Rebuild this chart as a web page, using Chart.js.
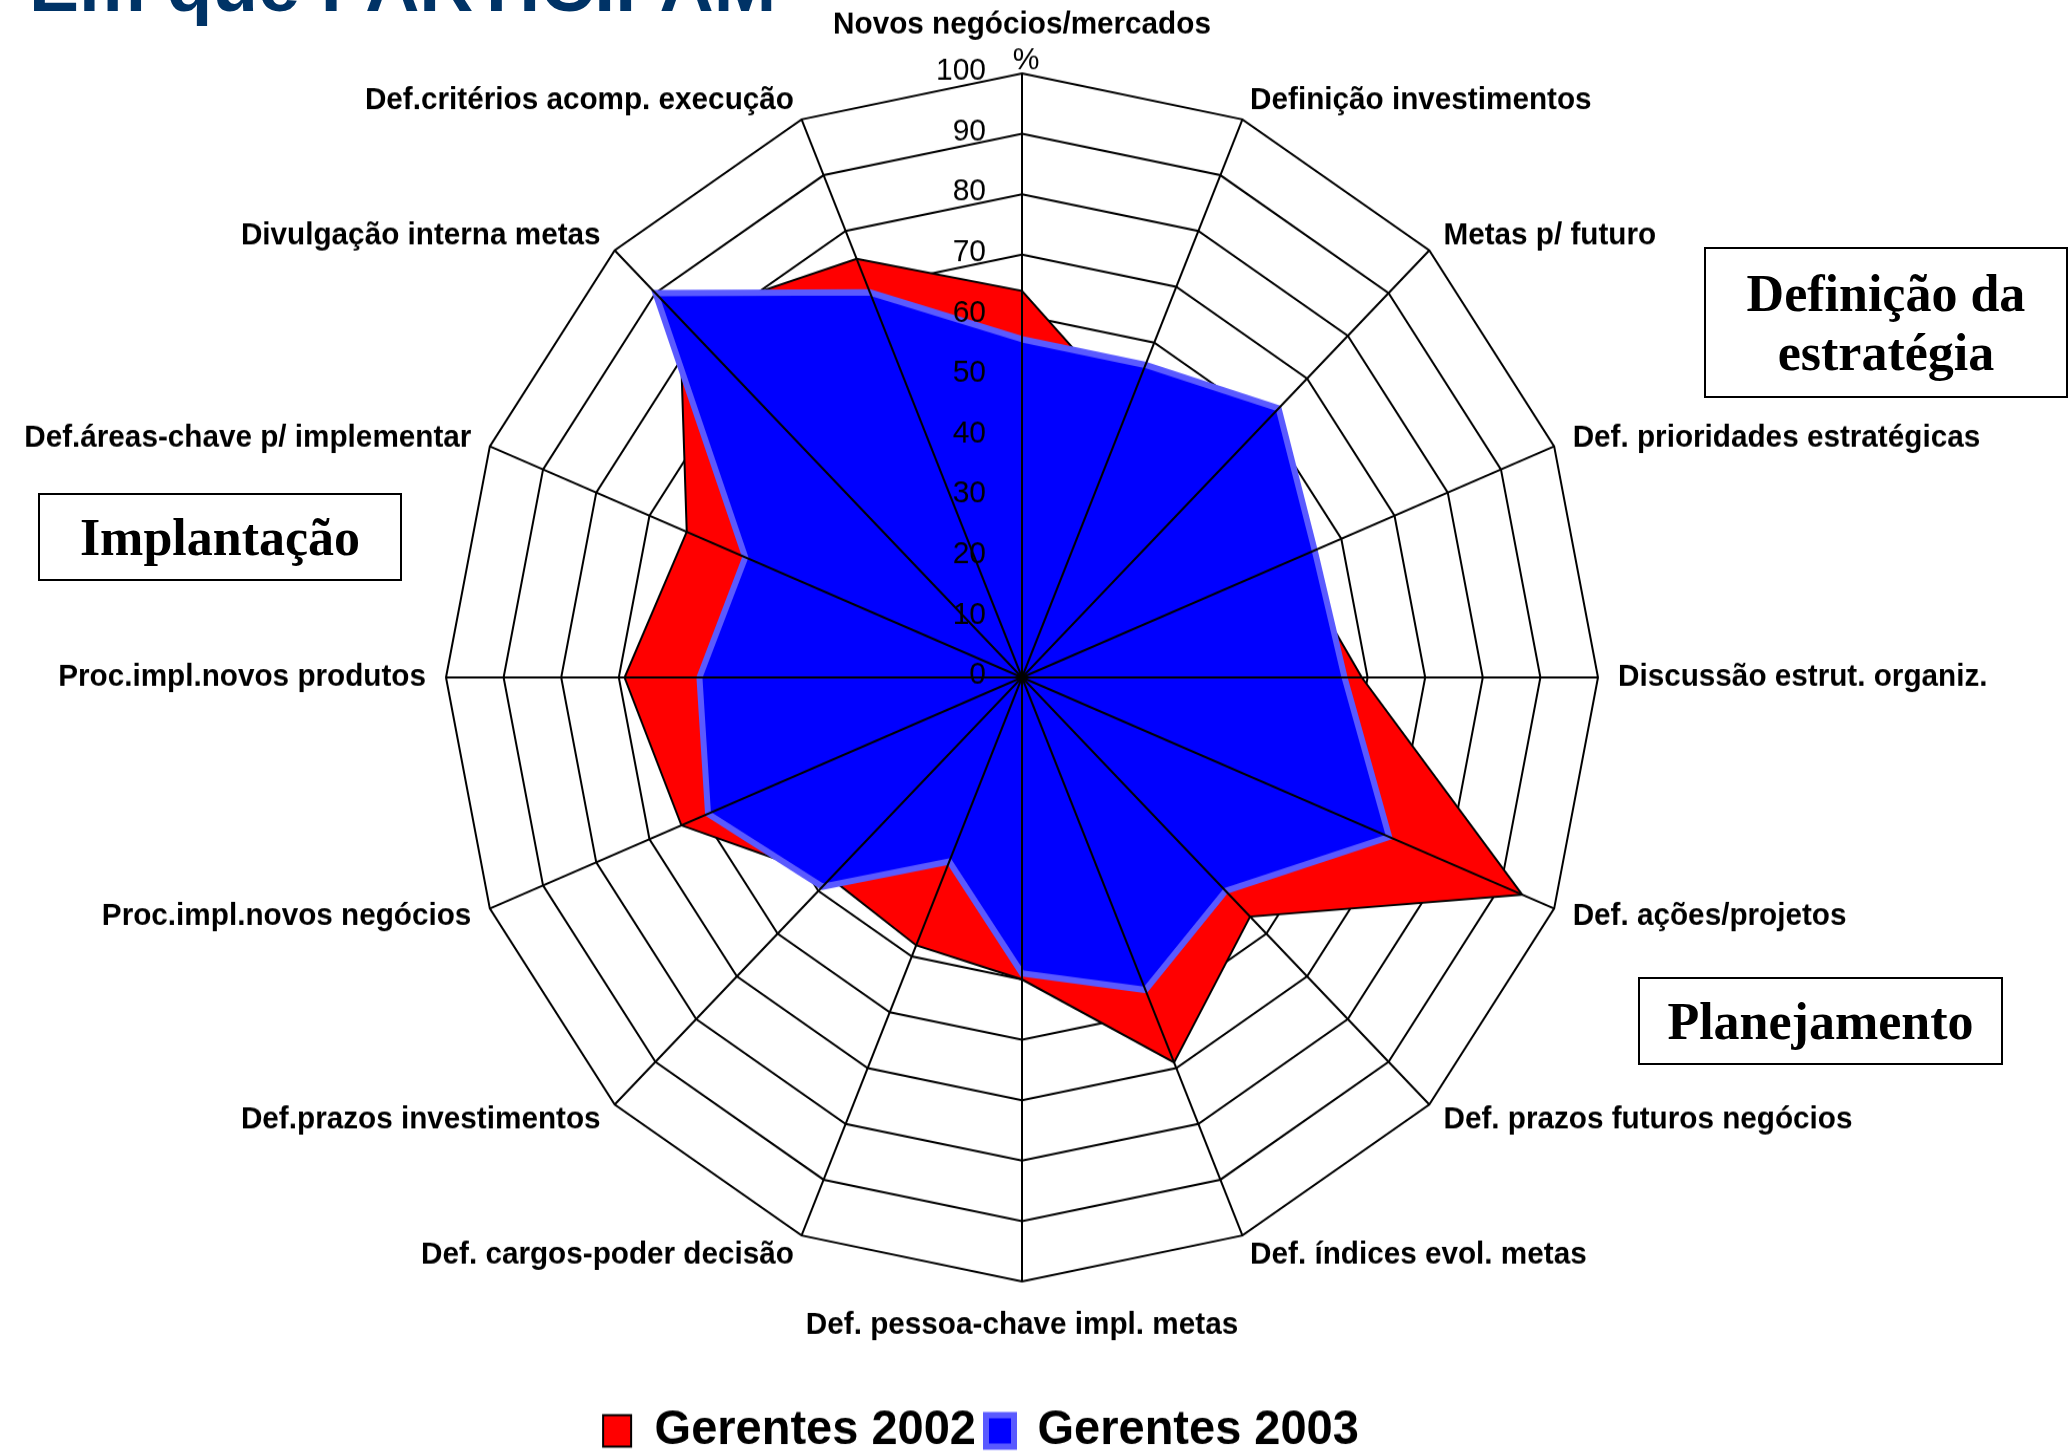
<!DOCTYPE html>
<html lang="pt">
<head>
<meta charset="utf-8">
<title>Em que PARTICIPAM</title>
<script src="https://cdn.jsdelivr.net/npm/chart.js@4.4.1/dist/chart.umd.min.js"></script>
<style>
  html, body { margin: 0; padding: 0; background: #fff; overflow: hidden; }
  body { width: 2069px; height: 1452px; position: relative; }
  #radarChart { position: absolute; left: 0; top: 0; }
  .slide-title {
    position: absolute; left: 29px; top: -52px;
    font: bold 75px 'Liberation Sans', Arial, sans-serif;
    line-height: 75px; color: #003366; white-space: nowrap;
  }
  .phase {
    position: absolute; box-sizing: border-box;
    border: 2px solid #000; background: #fff;
    display: flex; align-items: center; justify-content: center; text-align: center;
    font: bold 52px 'Liberation Serif', 'Times New Roman', serif;
    line-height: 59px; color: #000;
  }
</style>
</head>
<body>
<div class="slide-title">Em que PARTICIPAM</div>
<!-- canvas is drawn 1398 high and shown 1466 high: the original slide is stretched vertically -->
<canvas id="radarChart" width="2069" height="1398" style="width:2069px;height:1466px"></canvas>
<div class="phase" style="left:1704px;top:247px;width:364px;height:151px;">Definição da<br>estratégia</div>
<div class="phase" style="left:38px;top:493px;width:364px;height:88px;">Implantação</div>
<div class="phase" style="left:1638px;top:977px;width:365px;height:88px;">Planejamento</div>

<script>
// Radar: participation of managers per activity (%)

const labels = [
  'Novos negócios/mercados',
  'Definição investimentos',
  'Metas p/ futuro',
  'Def. prioridades estratégicas',
  'Discussão estrut. organiz.',
  'Def. ações/projetos',
  'Def. prazos futuros negócios',
  'Def. índices evol. metas',
  'Def. pessoa-chave impl. metas',
  'Def. cargos-poder decisão',
  'Def.prazos investimentos',
  'Proc.impl.novos negócios',
  'Proc.impl.novos produtos',
  'Def.áreas-chave p/ implementar',
  'Divulgação interna metas',
  'Def.critérios acomp. execução'
];

const gerentes2002 = [64, 48, 58, 51, 59, 94, 56, 69, 50, 48, 47, 64, 69, 63, 84, 75];
const gerentes2003 = [56, 56, 63, 55, 56, 69, 50, 56, 49, 33, 49, 59, 56, 52, 90, 69];

const scaleTicks = [0, 10, 20, 30, 40, 50, 60, 70, 80, 90, 100];
const unitLabel = '%';

const FONT = "'Liberation Sans', Arial, sans-serif";
const LABEL_SIZE = 29.7;
const LABEL_GAP = 20;

// point labels are centred on their spoke end (Excel style), so they are drawn here
function drawPointLabels(scale, ctx) {
  const lineH = LABEL_SIZE * 1.2;
  ctx.font = 'bold ' + LABEL_SIZE + 'px ' + FONT;
  ctx.textBaseline = 'middle';
  labels.forEach((text, i) => {
    const deg = Math.round(scale.getIndexAngle(i) * 180 / Math.PI) % 360;
    const p = scale.getPointPosition(i, scale.drawingArea + LABEL_GAP);
    let y = p.y;
    if (deg === 0) {
      ctx.textAlign = 'center';
      y -= lineH / 2 + 8;
    } else if (deg === 180) {
      ctx.textAlign = 'center';
      y += lineH / 2 + 4;
    } else {
      ctx.textAlign = deg < 180 ? 'left' : 'right';
    }
    ctx.fillText(text, p.x, y);
  });
}

// spokes and value labels go over the filled areas, like in the original
const spokesAndTicks = {
  id: 'spokesAndTicks',
  afterLayout(chart) {
    // legend row sits a bit left of the radar centre in the original
    chart.legend.left -= 41;
    chart.legend.right -= 41;
  },
  afterDatasetsDraw(chart) {
    const scale = chart.scales.r;
    const ctx = chart.ctx;
    ctx.save();
    ctx.strokeStyle = '#000';
    ctx.lineWidth = 2;
    labels.forEach((_, i) => {
      const p = scale.getPointPositionForValue(i, scale.max);
      ctx.beginPath();
      ctx.moveTo(scale.xCenter, scale.yCenter);
      ctx.lineTo(p.x, p.y);
      ctx.stroke();
    });

    ctx.fillStyle = '#000';
    ctx.font = '30px ' + FONT;
    ctx.textAlign = 'right';
    ctx.textBaseline = 'middle';
    scaleTicks.forEach(v => {
      const p = scale.getPointPositionForValue(0, v);
      ctx.fillText(String(v), p.x - 36, p.y - 2);
    });

    const top = scale.getPointPositionForValue(0, scale.max);
    ctx.textAlign = 'center';
    ctx.fillText(unitLabel, top.x + 4, top.y - 12);

    drawPointLabels(scale, ctx);
    ctx.restore();
  }
};

function initChart() {
  const ctx = document.getElementById('radarChart');

  new Chart(ctx, {
    type: 'radar',
    data: {
      labels: labels,
      datasets: [
        {
          label: 'Gerentes 2002',
          data: gerentes2002,
          order: 2,
          fill: true,
          backgroundColor: '#ff0000',
          borderColor: '#000000',
          borderWidth: 2,
          pointRadius: 0
        },
        {
          label: 'Gerentes 2003',
          data: gerentes2003,
          order: 1,
          fill: true,
          backgroundColor: '#0000ff',
          borderColor: '#5a5aff',
          borderWidth: 6,
          pointRadius: 0
        }
      ]
    },
    options: {
      responsive: false,
      animation: false,
      devicePixelRatio: 1,
      layout: {
        padding: { top: 70, left: 0, right: 25, bottom: 0 }
      },
      plugins: {
        tooltip: { enabled: false },
        legend: {
          position: 'bottom',
          // empty title only keeps the legend row low, near the bottom edge
          title: { display: true, text: '', padding: { top: 97, bottom: 0 }, font: { size: 10 } },
          labels: {
            color: '#000',
            font: { family: FONT, size: 47, weight: 'bold' },
            boxWidth: 28,
            boxHeight: 30,
            padding: 10,
            sort: (a, b) => a.datasetIndex - b.datasetIndex
          }
        }
      },
      scales: {
        r: {
          min: 0,
          max: 100,
          ticks: { display: false, stepSize: 10 },
          grid: { color: '#000', lineWidth: 2 },
          angleLines: { display: false },
          pointLabels: { display: false }
        }
      }
    },
    plugins: [spokesAndTicks]
  });
}

if (document.readyState === 'loading') {
  document.addEventListener('DOMContentLoaded', initChart);
} else {
  initChart();
}
</script>
</body>
</html>
